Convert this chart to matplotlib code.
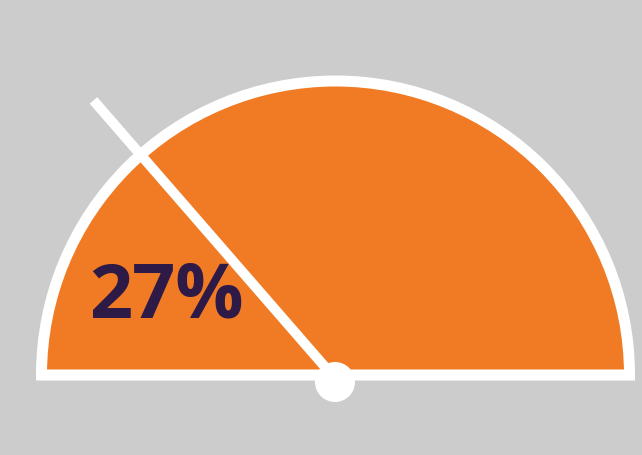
import numpy as np
import matplotlib
matplotlib.use("Agg")
import matplotlib.pyplot as plt
from matplotlib.patches import Wedge, Circle

# data
value = 27          # percent
label = f"{value}%"

W, H, DPI = 642, 456, 100
fig = plt.figure(figsize=(W / DPI, H / DPI), dpi=DPI, facecolor="#cccccc")
ax = fig.add_axes([0, 0, 1, 1])
ax.set_xlim(0, W)
ax.set_ylim(H, 0)
ax.set_aspect("equal")
ax.axis("off")

px = 72 / DPI
cx, cy, r = 335.5, 376, 294

# gauge body (in inverted y axis, angles flip: use 180..360)
g = Wedge((cx, cy), r, 180, 360, facecolor="#f07b24", edgecolor="white",
          linewidth=11 * px, joinstyle="miter", zorder=1)
ax.add_patch(g)

# needle
ang = np.pi * (1 - value / 100)
L = 366
x1 = cx + L * np.cos(ang)
y1 = cy - L * np.sin(ang)
ax.plot([cx, x1], [cy + 4, y1], color="white", lw=10 * px, solid_capstyle="butt", zorder=2)

# hub
ax.add_patch(Circle((335, 383), 20, facecolor="white", edgecolor="none", zorder=3))

ax.text(89, 318, label, fontfamily="Open Sans", fontweight="bold", fontsize=54.5,
        color="#2e1a47", ha="left", va="baseline", zorder=4)

fig.savefig("out.png", dpi=DPI, facecolor=fig.get_facecolor())
